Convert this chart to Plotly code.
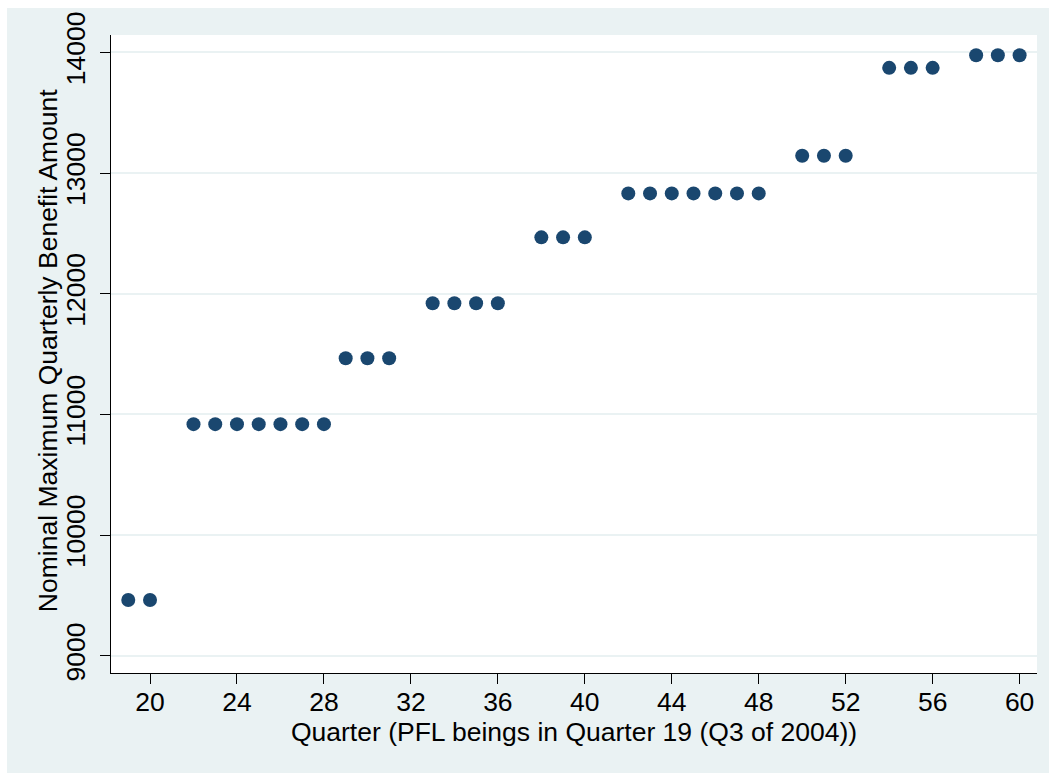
import plotly.graph_objects as go

quarters = [19, 20,
            22, 23, 24, 25, 26, 27, 28,
            29, 30, 31,
            33, 34, 35, 36,
            38, 39, 40,
            42, 43, 44, 45, 46, 47, 48,
            50, 51, 52,
            54, 55, 56,
            58, 59, 60]
max_benefit = [9464, 9464,
               10920, 10920, 10920, 10920, 10920, 10920, 10920,
               11466, 11466, 11466,
               11921, 11921, 11921, 11921,
               12467, 12467, 12467,
               12831, 12831, 12831, 12831, 12831, 12831, 12831,
               13143, 13143, 13143,
               13871, 13871, 13871,
               13975, 13975, 13975]
x_ticks = [20, 24, 28, 32, 36, 40, 44, 48, 52, 56, 60]
y_ticks = [9000, 10000, 11000, 12000, 13000, 14000]
y_tick_labels = ["9000", "10000", "11000", "12000", "13000", "14000"]

W, H = 1049, 773
L, R, T, B = 111, 12.3, 35, 100.3
pw, ph = W - L - R, H - T - B

def px_x(p):
    return (p - L) / pw

def px_y(p):
    return (H - B - p) / ph

font = "Liberation Sans, Arial, sans-serif"
bg = "#EAF2F3"
fs = 26.5

fig = go.Figure(go.Scatter(
    x=quarters, y=max_benefit, mode="markers",
    marker=dict(size=14, color="#1A476F", line=dict(width=0)),
    showlegend=False, cliponaxis=False,
))

fig.update_layout(
    width=W, height=H,
    margin=dict(l=L, r=R, t=T, b=B, pad=0),
    paper_bgcolor=bg, plot_bgcolor="white",
    font=dict(family=font, size=fs, color="black"),
    xaxis=dict(
        range=[18.205, 60.8], tickmode="array", tickvals=x_ticks,
        showgrid=False, zeroline=False, showline=True, linecolor="black", linewidth=1.3,
        ticks="outside", ticklen=10, tickwidth=1.3, tickcolor="black",
        tickfont=dict(size=fs), ticklabelstandoff=-5,
        title=dict(text="Quarter (PFL beings in Quarter 19 (Q3 of 2004))", font=dict(size=fs), standoff=0),
    ),
    yaxis=dict(
        range=[8859, 14143], tickmode="array", tickvals=y_ticks, ticktext=y_tick_labels,
        showgrid=True, gridcolor=bg, gridwidth=2, zeroline=False,
        showline=True, linecolor="black", linewidth=1.3,
        ticks="outside", ticklen=10, tickwidth=1.3, tickcolor="black",
        tickangle=-90, tickfont=dict(size=fs), ticklabelstandoff=4,
    ),
    annotations=[
        dict(text="Nominal Maximum Quarterly Benefit Amount", textangle=-90,
             xref="paper", yref="paper", x=px_x(48), y=px_y(350),
             xanchor="center", yanchor="middle", showarrow=False,
             font=dict(size=fs)),
    ],
    shapes=[
        dict(type="rect", xref="paper", yref="paper", x0=px_x(0), x1=px_x(W), y0=px_y(8), y1=px_y(0),
             fillcolor="white", line=dict(width=0), layer="below"),
        dict(type="rect", xref="paper", yref="paper", x0=px_x(0), x1=px_x(7), y0=px_y(H), y1=px_y(0),
             fillcolor="white", line=dict(width=0), layer="below"),
    ],
)

fig.write_html("out.html")
